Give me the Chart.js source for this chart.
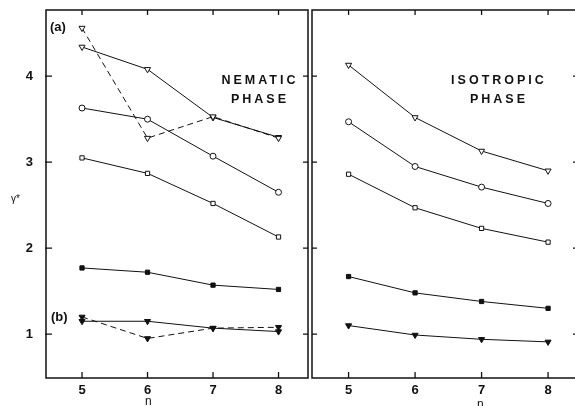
<!DOCTYPE html>
<html>
<head>
<meta charset="utf-8">
<script src="https://cdn.jsdelivr.net/npm/chart.js@4.4.0/dist/chart.umd.min.js"></script>
<style>
  body { margin: 0; width: 575px; height: 406px; overflow: hidden; background: #fff; position: relative; font-family: "Liberation Sans", Arial, sans-serif; }
  .pane { position: absolute; top: 0; height: 406px; }
  .lbl { position: absolute; font-weight: bold; color: #111; white-space: nowrap; }
  .phase { font-size: 12.5px; letter-spacing: 3px; text-align: center; line-height: 19px; }
</style>
</head>
<body>
<div class="pane" style="left:0;width:313px"><canvas id="nem"></canvas></div>
<div class="pane" style="left:307px;width:276px"><canvas id="iso"></canvas></div>

<div class="lbl" style="left:50px;top:19px;font-size:13px">(a)</div>
<div class="lbl" style="left:51px;top:309px;font-size:13px">(b)</div>
<div class="lbl phase" style="left:211px;top:71px;width:98px">NEMATIC<br>PHASE</div>
<div class="lbl phase" style="left:444px;top:71px;width:110px">ISOTROPIC<br>PHASE</div>
<div class="lbl" style="left:11px;top:193px;font-size:10px;font-weight:normal">&gamma;*</div>
<div class="lbl" style="left:145px;top:394px;font-size:12px;font-weight:normal">n</div>
<div class="lbl" style="left:477px;top:397px;font-size:12px;font-weight:normal">n</div>

<script>
// chain length n
var nValues = [5, 6, 7, 8];
var yTicks = [1, 2, 3, 4];

// nematic phase
var nemTriOpenDash = [4.56, 3.28, 3.53, 3.28];
var nemTriOpen = [4.34, 4.08, 3.52, 3.29];
var nemCircle = [3.63, 3.50, 3.07, 2.65];
var nemSquareOpen = [3.05, 2.87, 2.52, 2.13];
var nemSquareFilled = [1.77, 1.72, 1.57, 1.52];
var nemTriFilled = [1.15, 1.15, 1.07, 1.03];
var nemTriFilledDash = [1.20, 0.95, 1.07, 1.08];

// isotropic phase
var isoTriOpen = [4.13, 3.52, 3.13, 2.90];
var isoCircle = [3.47, 2.95, 2.71, 2.52];
var isoSquareOpen = [2.86, 2.47, 2.23, 2.07];
var isoSquareFilled = [1.67, 1.48, 1.38, 1.30];
var isoTriFilled = [1.10, 0.99, 0.94, 0.91];

var ink = '#111';

function serie(vals, style, filled, dashed) {
    var tri = style === 'triangle';
    return {
        data: nValues.map(function(n, i) { return {x: n, y: vals[i]}; }),
        borderColor: ink,
        borderWidth: 1,
        borderDash: dashed ? [6, 4] : [],
        pointStyle: style,
        rotation: tri ? 180 : 0,
        pointRadius: tri ? 3.5 : 3,
        pointBorderWidth: 1,
        pointBorderColor: ink,
        pointBackgroundColor: filled ? ink : '#fff',
        tension: 0
    };
}

// frame and inward ticks
var frame = {
    id: 'frame',
    afterDraw: function(chart, args, opt) {
        var c = chart.ctx, a = chart.chartArea;
        var xs = chart.scales.x, ys = chart.scales.y;
        c.save();
        c.strokeStyle = ink;
        c.lineWidth = 1.5;
        c.strokeRect(a.left, a.top, a.right - a.left, a.bottom - a.top);
        c.lineWidth = 1.3;
        c.beginPath();
        nValues.forEach(function(n) {
            var px = xs.getPixelForValue(n);
            c.moveTo(px, a.bottom); c.lineTo(px, a.bottom - 6);
            c.moveTo(px, a.top); c.lineTo(px, a.top + 5);
        });
        yTicks.forEach(function(v) {
            var py = ys.getPixelForValue(v);
            c.moveTo(a.left - opt.leftOut, py); c.lineTo(a.left + opt.leftIn, py);
            c.moveTo(a.right - opt.rightIn, py); c.lineTo(a.right + opt.rightOut, py);
        });
        c.stroke();
        c.restore();
    }
};

function options(showY, pad, tickOpt) {
    return {
        responsive: true,
        maintainAspectRatio: false,
        animation: false,
        layout: { padding: pad },
        plugins: { legend: { display: false }, tooltip: { enabled: false }, frame: tickOpt },
        scales: {
            x: {
                type: 'linear', min: 4.45, max: 8.45,
                grid: { display: false, drawTicks: false },
                border: { display: false },
                afterBuildTicks: function(s) { s.ticks = nValues.map(function(v) { return {value: v}; }); },
                afterFit: function(s) { s.height = 28; s.paddingLeft = 0; s.paddingRight = 0; },
                ticks: { padding: 5, color: ink, font: { family: 'Liberation Sans', size: 13, weight: 'bold' } }
            },
            y: {
                display: showY,
                min: 0.49, max: 4.77,
                grid: { display: false, drawTicks: false },
                border: { display: false },
                afterBuildTicks: function(s) { s.ticks = yTicks.map(function(v) { return {value: v}; }); },
                afterFit: function(s) { s.width = showY ? 46 : 0; s.paddingTop = 0; s.paddingBottom = 0; },
                ticks: { padding: 13, color: ink, font: { family: 'Liberation Sans', size: 13, weight: 'bold' } }
            }
        }
    };
}

new Chart(document.getElementById('nem'), {
    type: 'line',
    data: {
        datasets: [
            serie(nemTriOpenDash, 'triangle', false, true),
            serie(nemTriOpen, 'triangle', false, false),
            serie(nemCircle, 'circle', false, false),
            serie(nemSquareOpen, 'rect', false, false),
            serie(nemSquareFilled, 'rect', true, false),
            serie(nemTriFilled, 'triangle', true, false),
            serie(nemTriFilledDash, 'triangle', true, true)
        ]
    },
    options: options(true, { top: 10, right: 0, left: 0, bottom: 0 }, { leftOut: 1, leftIn: 6, rightIn: 5, rightOut: 0 }),
    plugins: [frame]
});

new Chart(document.getElementById('iso'), {
    type: 'line',
    data: {
        datasets: [
            serie(isoTriOpen, 'triangle', false, false),
            serie(isoCircle, 'circle', false, false),
            serie(isoSquareOpen, 'rect', false, false),
            serie(isoSquareFilled, 'rect', true, false),
            serie(isoTriFilled, 'triangle', true, false)
        ]
    },
    options: options(false, { top: 10, right: 0, left: 0, bottom: 0 }, { leftOut: 0, leftIn: 5, rightIn: 5, rightOut: 0 }),
    plugins: [frame]
});
</script>
</body>
</html>
